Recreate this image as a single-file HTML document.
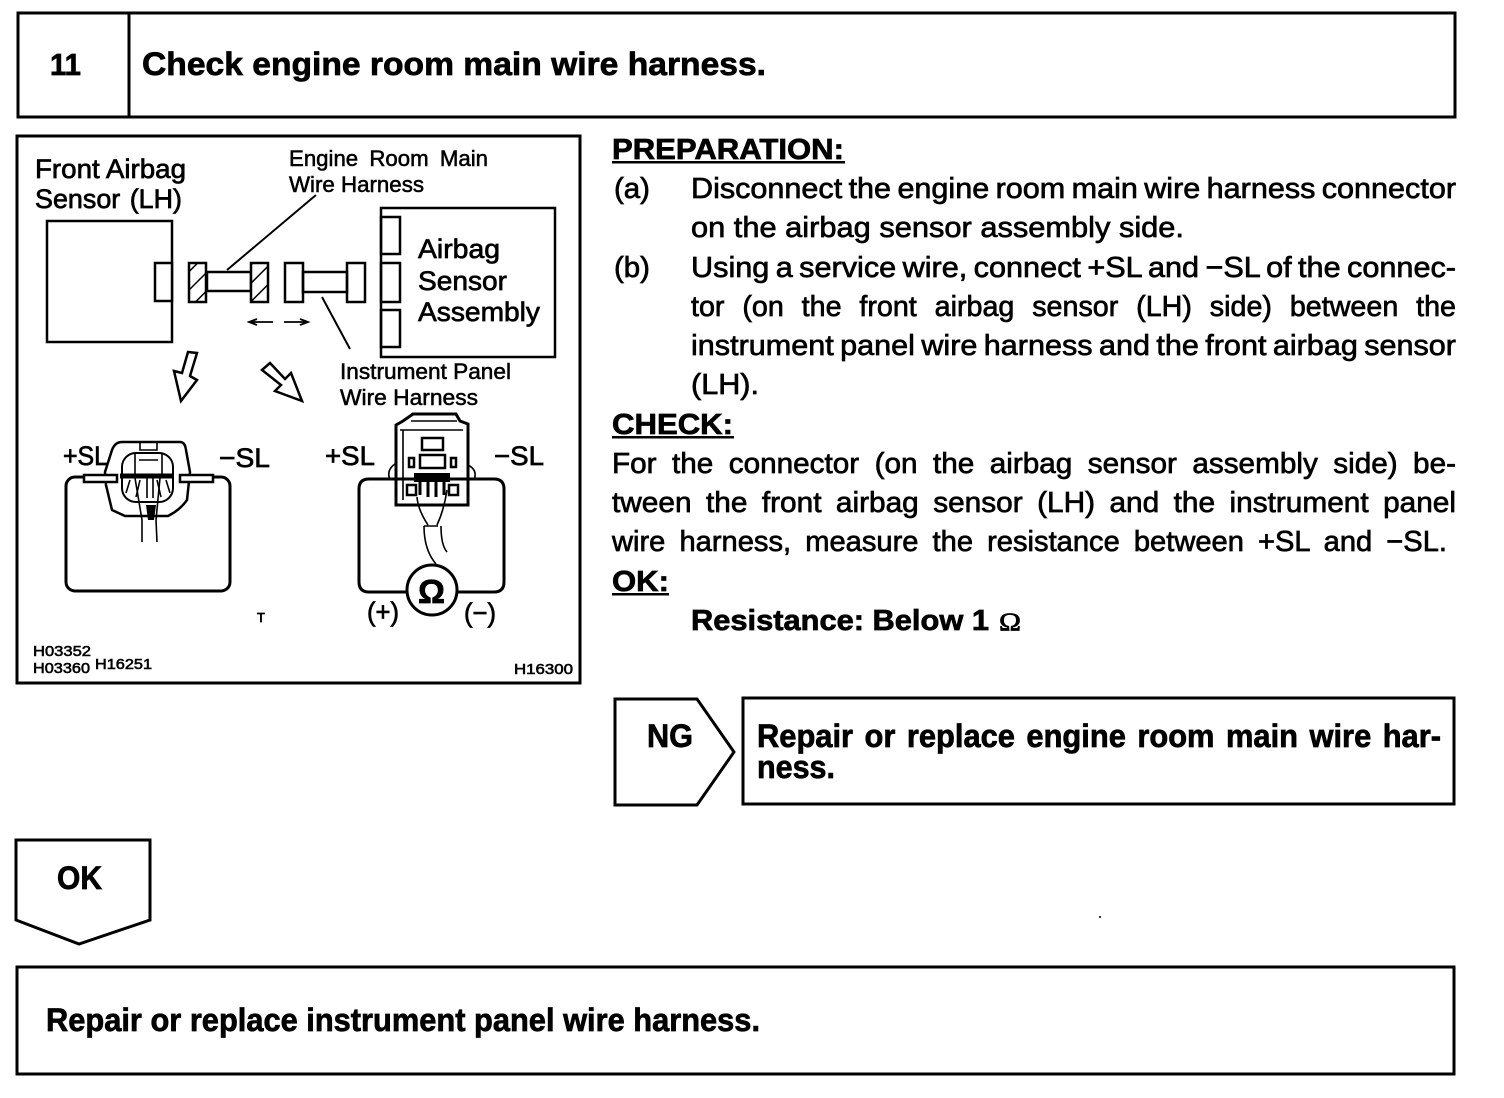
<!DOCTYPE html>
<html><head><meta charset="utf-8"><style>
html,body{margin:0;padding:0;background:#fff}
svg{display:block}
text{font-family:"Liberation Sans",sans-serif;fill:#000;stroke:#000;stroke-width:.7}
.b{font-weight:bold;stroke-width:.7}
.h{font-size:32px;font-weight:bold;stroke-width:.7}
.d{font-size:27px}
.s{font-size:22px;stroke-width:.55}
.t{font-size:15px;stroke-width:.6}
.l{fill:none;stroke:#000;stroke-width:2.5}
.w{fill:#fff;stroke:#000;stroke-width:2.5}
.th{fill:none;stroke:#000;stroke-width:1.6}
</style></head><body>
<svg width="1504" height="1098" viewBox="0 0 1504 1098" xmlns="http://www.w3.org/2000/svg">
<defs>
<pattern id="h2" width="13" height="13" patternUnits="userSpaceOnUse" patternTransform="rotate(-45)"><rect width="13" height="13" fill="#fff"/><line x1="0" y1="0" x2="13" y2="0" stroke="#000" stroke-width="3"/></pattern></defs>

<!-- header -->
<rect x="18" y="13" width="1437" height="104" fill="none" stroke="#000" stroke-width="3"/>
<line x1="129" y1="13" x2="129" y2="117" stroke="#000" stroke-width="3"/>
<text x="50" y="75" class="b" font-size="31" textLength="31" lengthAdjust="spacingAndGlyphs">11</text>
<text x="142" y="75" class="h" textLength="624" lengthAdjust="spacingAndGlyphs">Check engine room main wire harness.</text>

<!-- diagram frame -->
<rect x="17" y="136" width="563" height="547" fill="none" stroke="#000" stroke-width="3"/>

<text x="35" y="178" class="d" textLength="151" lengthAdjust="spacingAndGlyphs">Front Airbag</text>
<text x="35" y="208" class="d" textLength="147" lengthAdjust="spacingAndGlyphs" style="word-spacing:2px">Sensor (LH)</text>
<text x="289" y="166" class="s" textLength="199" lengthAdjust="spacingAndGlyphs" style="word-spacing:5px">Engine Room Main</text>
<text x="289" y="192" class="s" textLength="135" lengthAdjust="spacingAndGlyphs">Wire Harness</text>

<rect x="47" y="221" width="125" height="121" class="l"/>
<rect x="155" y="263" width="17" height="38" class="w"/>
<rect x="207" y="272" width="44" height="19" class="l"/>
<rect x="189" y="263" width="17" height="39" fill="url(#h2)" stroke="#000" stroke-width="2.5"/>
<rect x="251" y="263" width="17" height="39" fill="url(#h2)" stroke="#000" stroke-width="2.5"/>
<rect x="285" y="263" width="18" height="39" class="l"/>
<rect x="303" y="272" width="44" height="20" class="l"/>
<rect x="347" y="263" width="18" height="39" class="l"/>
<rect x="381" y="208" width="174" height="149" class="l"/>
<rect x="381" y="217" width="19" height="37" class="l"/>
<rect x="381" y="263" width="19" height="39" class="l"/>
<rect x="381" y="310" width="19" height="37" class="l"/>
<line x1="316" y1="195" x2="227" y2="270" stroke="#000" stroke-width="2"/>
<line x1="322" y1="297" x2="350" y2="349" stroke="#000" stroke-width="2"/>
<text x="418" y="258" class="d" textLength="82" lengthAdjust="spacingAndGlyphs">Airbag</text>
<text x="418" y="290" class="d" textLength="89" lengthAdjust="spacingAndGlyphs">Sensor</text>
<text x="418" y="321" class="d" textLength="122" lengthAdjust="spacingAndGlyphs">Assembly</text>
<text x="340" y="379" class="s" textLength="171" lengthAdjust="spacingAndGlyphs">Instrument Panel</text>
<text x="340" y="405" class="s" textLength="138" lengthAdjust="spacingAndGlyphs">Wire Harness</text>

<!-- small arrows -->
<path d="M273 322H251M257 319L249 322L257 325" fill="none" stroke="#000" stroke-width="1.8"/>
<path d="M284 322H306M300 319L308 322L300 325" fill="none" stroke="#000" stroke-width="1.8"/>
<!-- hollow arrows -->
<polygon points="188,352 197,353 190,376 197,380 181,401 174,371 182,373" fill="#fff" stroke="#000" stroke-width="2.5"/>
<polygon points="262,370 270,363 285,379 291,373 302,401 275,391 281,385" fill="#fff" stroke="#000" stroke-width="2.5"/>

<!-- left meter -->
<rect x="66" y="477" width="164" height="114" rx="9" fill="none" stroke="#000" stroke-width="3"/>
<text x="63" y="465" class="d" textLength="45" lengthAdjust="spacingAndGlyphs">+SL</text>
<text x="219" y="467" class="d" textLength="51" lengthAdjust="spacingAndGlyphs">−SL</text>
<path d="M105 472L112 450Q115 442 122 442H180Q185 442 186 450L190 472L187 500Q180 510 168 516H125L112 510L106 485Z" fill="#fff" stroke="#000" stroke-width="2.5"/>
<rect x="122" y="453" width="51" height="49" rx="14" fill="none" stroke="#000" stroke-width="2"/>
<path d="M140 442H157V450H140ZM135 453V474M162 453V474M139 460H158" class="th"/>
<path d="M120 476H173" stroke="#000" stroke-width="5"/>
<path d="M130 480L126 493M140 480L136 497M166 480L170 493M157 480L161 497" class="th"/>
<path d="M135 478L142 520L142 542M160 478L156 520L157 542M147 477V498M153 477V498" class="th"/>
<path d="M146 505H156L154 520H148Z" fill="#000"/>
<rect x="84" y="475" width="33" height="7" class="w" stroke-width="2"/>
<rect x="180" y="475" width="33" height="7" class="w" stroke-width="2"/>

<!-- right meter -->
<text x="325" y="465" class="d" textLength="50" lengthAdjust="spacingAndGlyphs">+SL</text>
<text x="494" y="465" class="d" textLength="50" lengthAdjust="spacingAndGlyphs">−SL</text>
<path d="M408 592H369Q359 592 359 582V489Q359 479 369 479H494Q504 479 504 489V582Q504 592 494 592H457" fill="none" stroke="#000" stroke-width="3"/>
<path d="M395 464Q386 470 390 480M468 465Q478 470 474 480" class="th" stroke-width="2"/>
<path d="M396 425L403 421L413 414H456L460 421L468 424V505H396Z" fill="none" stroke="#000" stroke-width="3"/>
<path d="M400 430H463M411 421H457M403 430V500" class="th"/>
<rect x="422" y="438" width="21" height="12" class="l"/>
<rect x="420" y="455" width="25" height="13" class="l"/>
<rect x="409" y="458" width="5" height="9" class="l" stroke-width="2"/>
<rect x="451" y="458" width="5" height="9" class="l" stroke-width="2"/>
<rect x="407" y="485" width="9" height="10" class="l" stroke-width="2"/>
<rect x="449" y="485" width="9" height="10" class="l" stroke-width="2"/>
<path d="M414 473H450V482H414Z" fill="#000"/>
<path d="M420 474V495M428 474V497M436 474V497M444 474V495" stroke="#000" stroke-width="3" fill="none"/>
<path d="M417 497Q418 510 428 525M447 490Q444 510 437 525M423 505H443M424 526H438" class="th"/>
<path d="M424 526Q424 550 436 564M441 526Q441 545 447 552" class="th" stroke-width="2"/>
<circle cx="432" cy="590" r="25" fill="none" stroke="#000" stroke-width="3"/>
<text x="418" y="603" font-size="33" class="b" textLength="27" lengthAdjust="spacingAndGlyphs">Ω</text>
<text x="367" y="621" class="d" textLength="32" lengthAdjust="spacingAndGlyphs">(+)</text>
<text x="464" y="622" class="d" textLength="32" lengthAdjust="spacingAndGlyphs">(−)</text>

<text x="257" y="622" font-size="13" textLength="8" lengthAdjust="spacingAndGlyphs">T</text>
<text x="33" y="656" class="t" textLength="58" lengthAdjust="spacingAndGlyphs">H03352</text>
<text x="33" y="673" class="t" textLength="57" lengthAdjust="spacingAndGlyphs">H03360</text>
<text x="95" y="669" class="t" textLength="57" lengthAdjust="spacingAndGlyphs">H16251</text>
<text x="514" y="674" class="t" textLength="59" lengthAdjust="spacingAndGlyphs">H16300</text>

<!-- body text -->
<g style="font-size:29px">
<text x="612" y="159" class="b" textLength="232" lengthAdjust="spacingAndGlyphs">PREPARATION:</text>
<rect x="612" y="161" width="233" height="2.5"/>
<text x="614" y="198" textLength="36" lengthAdjust="spacingAndGlyphs">(a)</text>
<text x="691" y="198" textLength="765" lengthAdjust="spacingAndGlyphs" style="word-spacing:-2px">Disconnect the engine room main wire harness connector</text>
<text x="691" y="237" textLength="493" lengthAdjust="spacingAndGlyphs">on the airbag sensor assembly side.</text>
<text x="614" y="277" textLength="36" lengthAdjust="spacingAndGlyphs">(b)</text>
<text x="691" y="277" textLength="765" lengthAdjust="spacingAndGlyphs" style="word-spacing:-2px">Using a service wire, connect +SL and −SL of the connec-</text>
<text x="691" y="316" textLength="765" lengthAdjust="spacingAndGlyphs" style="word-spacing:10px">tor (on the front airbag sensor (LH) side) between the</text>
<text x="691" y="355" textLength="765" lengthAdjust="spacingAndGlyphs" style="word-spacing:-2px">instrument panel wire harness and the front airbag sensor</text>
<text x="691" y="394" textLength="68" lengthAdjust="spacingAndGlyphs">(LH).</text>
<text x="612" y="434" class="b" textLength="121" lengthAdjust="spacingAndGlyphs">CHECK:</text>
<rect x="612" y="436" width="122" height="2.5"/>
<text x="612" y="473" textLength="844" lengthAdjust="spacingAndGlyphs" style="word-spacing:7px">For the connector (on the airbag sensor assembly side) be-</text>
<text x="612" y="512" textLength="844" lengthAdjust="spacingAndGlyphs" style="word-spacing:6px">tween the front airbag sensor (LH) and the instrument panel</text>
<text x="612" y="551" textLength="835" lengthAdjust="spacingAndGlyphs" style="word-spacing:6px">wire harness, measure the resistance between +SL and −SL.</text>
<text x="612" y="591" class="b" textLength="57" lengthAdjust="spacingAndGlyphs">OK:</text>
<rect x="612" y="593" width="57" height="2.5"/>
<text x="691" y="630" class="b" textLength="298" lengthAdjust="spacingAndGlyphs">Resistance: Below 1</text>
<text x="999" y="630" font-size="25" textLength="22" lengthAdjust="spacingAndGlyphs" style="font-family:'Liberation Serif',serif;font-size:25px">Ω</text>
</g>

<!-- NG -->
<polygon points="615,699 697,699 734,752 697,805 615,805" fill="none" stroke="#000" stroke-width="3"/>
<text x="647" y="747" class="h" textLength="46" lengthAdjust="spacingAndGlyphs">NG</text>
<rect x="743" y="698" width="711" height="106" fill="none" stroke="#000" stroke-width="3"/>
<text x="757" y="747" class="h" textLength="684" lengthAdjust="spacingAndGlyphs" style="word-spacing:3px">Repair or replace engine room main wire har-</text>
<text x="757" y="778" class="h" textLength="78" lengthAdjust="spacingAndGlyphs">ness.</text>

<!-- OK -->
<polygon points="16,840 150,840 150,920 79,944 16,920" fill="none" stroke="#000" stroke-width="3"/>
<text x="57" y="889" class="h" textLength="45" lengthAdjust="spacingAndGlyphs">OK</text>
<circle cx="1100" cy="917" r="1"/>

<!-- bottom -->
<rect x="17" y="967" width="1437" height="107" fill="none" stroke="#000" stroke-width="3"/>
<text x="46" y="1031" class="h" textLength="714" lengthAdjust="spacingAndGlyphs">Repair or replace instrument panel wire harness.</text>
</svg>
</body></html>
